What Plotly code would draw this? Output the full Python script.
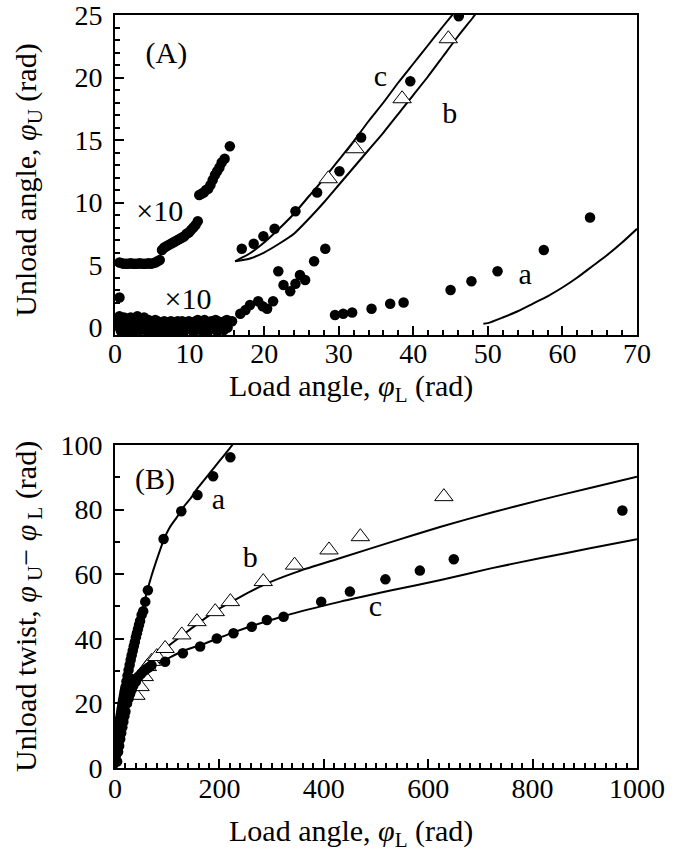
import plotly.graph_objects as go

# ---------------- Panel A data ----------------
# x10 upper series (values multiplied by 10)
a_up10_x = [0.6, 0.9, 1.2, 1.5, 1.8, 2.1, 2.4, 2.7, 3.0, 3.3, 3.6, 3.9, 4.2, 4.5, 4.8, 5.1, 5.4,
            5.7, 6.0, 6.3, 6.6, 6.9, 7.2, 7.5, 7.8, 8.1, 8.4, 8.7, 9.0, 9.3, 9.6, 9.9, 10.2,
            10.5, 10.8, 11.1, 11.3, 11.6, 11.9, 12.2, 12.5, 12.8, 13.1, 13.4, 13.7, 14.0, 14.3,
            14.7, 15.4]
a_up10_y = [5.2, 5.15, 5.1, 5.1, 5.1, 5.15, 5.1, 5.1, 5.1, 5.15, 5.1, 5.1, 5.1, 5.15, 5.1,
            5.15, 5.2, 5.3, 5.4, 6.2, 6.4, 6.5, 6.6, 6.7, 6.8, 6.9, 7.0, 7.1, 7.2, 7.3, 7.5,
            7.6, 7.8, 8.0, 8.2, 8.5, 10.6, 10.7, 10.8, 11.0, 11.1, 11.4, 11.8, 12.2, 12.5,
            12.8, 13.2, 13.5, 14.5]

# x10 lower series (values multiplied by 10)
a_lo10_x = [0.6, 0.3, 0.6, 0.9, 1.2, 1.5, 1.8, 2.1, 2.4, 2.7, 3.0, 3.3, 3.6, 3.9, 4.2, 4.5,
            4.8, 5.1, 5.4, 5.7, 6.0, 6.3, 6.6, 6.9, 7.2, 7.5, 7.8, 8.1, 8.4, 8.7, 9.0, 9.3,
            9.6, 9.9, 10.2, 10.5, 10.8, 11.1, 11.4, 11.7, 12.0, 12.3, 12.6, 12.9, 13.2, 13.5,
            13.8, 14.1, 14.4, 14.7, 15.0, 15.3,
            0.4, 0.8, 1.1, 1.6, 2.0, 2.5, 2.9, 3.4, 3.8, 4.3, 4.7, 5.2, 5.6, 6.1, 6.5, 7.0,
            7.4, 7.9, 8.3, 8.8, 9.2, 9.7, 10.1, 10.6, 11.0, 11.5, 11.9, 12.4, 12.8, 13.3, 13.7,
            14.2, 14.6, 15.1,
            15.7, 16.8, 17.5, 18.1, 19.2, 19.8, 20.4, 21.2, 21.9, 22.6, 23.5, 24.2, 24.8, 25.5,
            26.7, 28.2]
a_lo10_y = [2.4, 0.7, 0.9, 0.6, 0.8, 0.7, 0.5, 0.8, 0.6, 0.7, 0.9, 0.6, 0.7, 0.8, 0.5, 0.6,
            0.5, 0.4, 0.6, 0.5, 0.3, 0.4, 0.5, 0.3, 0.4, 0.5, 0.3, 0.4, 0.5, 0.4, 0.5, 0.4, 0.3,
            0.5, 0.4, 0.3, 0.5, 0.6, 0.4, 0.5, 0.6, 0.4, 0.3, 0.5, 0.4, 0.6, 0.5, 0.4, 0.3, 0.5,
            0.6, 0.5,
            0.1, -0.3, 0.2, -0.4, -0.1, -0.4, 0.1, -0.2, 0.0, -0.3, 0.1, -0.4, 0.0, -0.3, -0.1,
            -0.4, 0.0, -0.2, -0.3, 0.0, -0.4, -0.1, 0.1, -0.3, 0.0, -0.2, 0.1, -0.4, -0.1, 0.0,
            -0.3, 0.1, -0.2, 0.0,
            0.5, 1.1, 1.4, 1.8, 2.1, 1.7, 1.5, 2.1, 4.5, 3.4, 2.9, 3.5, 4.2, 3.8, 5.3, 6.3]

# series a (filled circles)
a_a_x = [29.5, 30.6, 31.8, 34.4, 36.9, 38.7, 45.0, 47.8, 51.3, 57.5, 63.7]
a_a_y = [1.0, 1.1, 1.2, 1.5, 1.9, 2.0, 3.0, 3.7, 4.5, 6.2, 8.8]
# series b (open triangles)
a_b_x = [28.6, 32.2, 38.5, 44.7]
a_b_y = [11.9, 14.3, 18.3, 23.1]
# series c (filled circles)
a_c_x = [17.0, 18.6, 19.9, 21.4, 24.2, 27.1, 30.1, 33.0, 39.6, 46.1]
a_c_y = [6.3, 6.7, 7.3, 7.9, 9.3, 10.8, 12.5, 15.2, 19.7, 24.9]

# model curves
la_a_x = [49.4, 50, 52, 54, 56, 58, 60, 62, 64, 66, 68, 70]
la_a_y = [0.3, 0.35, 0.8, 1.3, 1.9, 2.5, 3.2, 4.0, 4.9, 5.8, 6.8, 7.9]
la_b_x = [16.1, 18, 20, 22, 24, 26, 28, 30, 32, 34, 36, 38, 40, 42, 44, 46, 48, 48.5]
la_b_y = [5.3, 5.5, 6.0, 6.7, 7.5, 8.7, 10.0, 11.4, 12.8, 14.2, 15.6, 17.1, 18.6, 20.1, 21.7,
          23.3, 24.8, 25.2]
la_c_x = [16.1, 18, 20, 22, 24, 26, 28, 30, 32, 34, 36, 38, 40, 42, 44, 45.5]
la_c_y = [5.3, 5.9, 6.8, 7.9, 9.1, 10.5, 11.9, 13.4, 14.9, 16.5, 18.0, 19.6, 21.1, 22.6, 24.1,
          25.2]

# in-plot labels, panel A
lab_a_text = ["(A)", "×10", "×10", "c", "b", "a"]
lab_a_x = [6.9, 6.0, 9.8, 35.6, 44.9, 55.0]
lab_a_y = [21.8, 9.1, 2.1, 19.9, 17.0, 4.1]

# ---------------- Panel B data ----------------
b_a_x = [1, 2, 3, 4, 5, 6, 7, 8, 9, 10, 11, 12, 13, 14, 15, 16, 17, 18, 19, 20, 22, 24, 26,
         28, 30, 32, 34, 36, 38, 40, 42, 44, 46, 48, 51, 54, 58, 63, 93, 127, 158, 188, 221]
b_a_y = [2, 4, 6, 8, 9.5, 11, 12.3, 13.5, 14.5, 15.5, 16.5, 17.5, 18.5, 19.5, 20.5, 21.4,
         22.3, 23.2, 24.1, 25, 26.8, 28.6, 30.3, 31.9, 33.5, 34.9, 36.3, 37.7, 39, 40.5, 41.7,
         43, 44.3, 45.5, 47.4, 48.5, 51.5, 55, 70.9, 79.5, 84.5, 90.3, 96.2]
b_b_x = [40, 48, 56, 62, 70, 80, 96, 128, 157, 192, 221, 284, 344, 410, 470, 630]
b_b_y = [22.5, 25.2, 28.3, 31.4, 33, 34.5, 37, 41.2, 45.3, 48.4, 51.5, 57.7, 62.8, 67.5,
         71.6, 84.0]
b_c_x = [4, 5, 6, 7, 8, 9, 10, 11, 12, 13, 14, 15, 16, 17, 18, 19, 20, 22, 23, 25, 26, 28, 29,
         31, 32, 34, 35, 40, 45, 50, 55, 60, 65, 70, 96, 130, 163, 195, 227, 262, 291, 323,
         395, 450, 518, 584, 649, 972]
b_c_y = [2, 8, 5, 10, 6.9, 12, 9, 14, 10.8, 16, 12.6, 17.5, 14.3, 19, 16, 20.5, 17.5, 22, 20,
         23.5, 21.5, 25, 23, 26.5, 24.3, 27.5, 25.5, 26.8, 28.3, 29.2, 30, 30.6, 31.2, 31.8,
         32.9, 35.5, 37.6, 40.1, 41.7, 43.7, 45.8, 46.8, 51.5, 54.6, 58.4, 61.1, 64.6, 79.7]

lb_a_x = [1, 2, 4, 6, 8, 10, 15, 20, 25, 30, 35, 41, 48, 55, 62, 70, 80, 93, 105, 118, 130,
          145, 160, 175, 190, 205, 220, 227]
lb_a_y = [0, 4, 8, 11, 13.5, 15.5, 20.5, 25, 29.5, 33.5, 37, 41.5, 46, 50.5, 55, 59.5, 64.5,
          70.5, 74.5, 77.5, 80.5, 83.5, 87, 90, 93, 96, 99, 100.5]
lb_b_x = [2, 5, 10, 15, 20, 30, 40, 48, 60, 86, 138, 195, 285, 350, 432, 530, 624, 720, 816,
          910, 1000]
lb_b_y = [0, 6.5, 11, 15.5, 19.5, 24.5, 28, 30.3, 32.6, 35.8, 42.2, 48.9, 56.7, 60.8, 65.0,
          70.0, 74.7, 79.0, 83.0, 86.7, 90.2]
lb_c_x = [3, 6, 10, 15, 20, 27, 35, 45, 55, 67, 96, 131, 163, 195, 227, 323, 432, 530, 624,
          720, 816, 910, 1000]
lb_c_y = [0, 5, 9, 13.5, 17.5, 22, 25.5, 28.3, 30, 31.2, 33.5, 36.3, 38, 40, 42, 47, 51.5,
          55, 58.2, 61.8, 65, 68, 70.8]

# in-plot labels, panel B
lab_b_text = ["(B)", "a", "b", "c"]
lab_b_x = [76.8, 198, 259, 499]
lab_b_y = [88.6, 82.4, 64.4, 49.4]

FONT = "Liberation Serif, Times New Roman, serif"
BLACK = "black"
TICK_SIZE = 28
TITLE_SIZE = 30
LABEL_SIZE = 30

fig = go.Figure()


def dots(x, y, xa, ya):
    fig.add_trace(go.Scatter(x=x, y=y, mode="markers", xaxis=xa, yaxis=ya, showlegend=False,
                             marker=dict(symbol="circle", size=10.5, color=BLACK,
                                         line=dict(width=0))))


def tris(x, y, xa, ya):
    fig.add_trace(go.Scatter(x=x, y=y, mode="markers", xaxis=xa, yaxis=ya, showlegend=False,
                             marker=dict(symbol="triangle-up", size=16, color="white",
                                         line=dict(width=1, color=BLACK))))


def curve(x, y, xa, ya):
    fig.add_trace(go.Scatter(x=x, y=y, mode="lines", xaxis=xa, yaxis=ya, showlegend=False,
                             line=dict(color=BLACK, width=2, shape="spline", smoothing=0.6)))


def labels(t, x, y, xa, ya):
    fig.add_trace(go.Scatter(x=x, y=y, text=t, mode="text", xaxis=xa, yaxis=ya,
                             showlegend=False, textposition="middle center",
                             textfont=dict(family=FONT, size=LABEL_SIZE, color=BLACK),
                             hoverinfo="skip", cliponaxis=False))


# Panel A
curve(la_a_x, la_a_y, "x", "y")
curve(la_b_x, la_b_y, "x", "y")
curve(la_c_x, la_c_y, "x", "y")
dots(a_up10_x, a_up10_y, "x", "y")
dots(a_lo10_x, a_lo10_y, "x", "y")
dots(a_a_x, a_a_y, "x", "y")
dots(a_c_x, a_c_y, "x", "y")
tris(a_b_x, a_b_y, "x", "y")
labels(lab_a_text, lab_a_x, lab_a_y, "x", "y")

# Panel B
curve(lb_a_x, lb_a_y, "x2", "y2")
curve(lb_b_x, lb_b_y, "x2", "y2")
curve(lb_c_x, lb_c_y, "x2", "y2")
tris(b_b_x, b_b_y, "x2", "y2")
dots(b_a_x, b_a_y, "x2", "y2")
dots(b_c_x, b_c_y, "x2", "y2")
labels(lab_b_text, lab_b_x, lab_b_y, "x2", "y2")

axis_common = dict(showgrid=False, zeroline=False, showline=True, linecolor=BLACK,
                   linewidth=2, mirror=True, ticks="inside", ticklen=9, tickwidth=1.5,
                   tickcolor=BLACK, automargin=False, ticklabeloverflow="allow",
                   tickfont=dict(family=FONT, size=TICK_SIZE, color=BLACK))
minor_common = dict(ticks="inside", ticklen=5, tickwidth=1.5, tickcolor=BLACK)

fig.update_layout(
    width=689, height=851,
    margin=dict(l=115, r=52, t=15, b=83, autoexpand=False),
    paper_bgcolor="white", plot_bgcolor="white",
    font=dict(family=FONT, size=TICK_SIZE, color=BLACK),
    xaxis=dict(axis_common, domain=[0, 1], range=[0, 70], dtick=10, anchor="y",
               ticklabelstandoff=-8, minor=dict(minor_common, dtick=2)),
    yaxis=dict(axis_common, domain=[0.575, 1], range=[-0.6, 25], tickmode="array",
               tickvals=[0, 5, 10, 15, 20, 25], anchor="x",
               ticklabelstandoff=5, minor=dict(minor_common, dtick=1, tick0=0)),
    xaxis2=dict(axis_common, domain=[0, 1], range=[0, 1000], dtick=200, anchor="y2",
                ticklabelstandoff=-6, minor=dict(minor_common, dtick=20)),
    yaxis2=dict(axis_common, domain=[0, 0.429], range=[0, 100], dtick=20, anchor="x2",
                ticklabelstandoff=5, minor=dict(minor_common, dtick=10)),
)

tfont = dict(family=FONT, size=TITLE_SIZE, color=BLACK)
ann = []
# axis titles
ann.append(dict(text="Load angle, <i>φ</i><sub>L</sub> (rad)", xref="paper", yref="paper",
                x=0.452, y=0.505, xanchor="center", yanchor="middle", showarrow=False,
                font=tfont))
ann.append(dict(text="Load angle, <i>φ</i><sub>L</sub> (rad)", xref="paper", yref="paper",
                x=0.452, y=-0.086, xanchor="center", yanchor="middle", showarrow=False,
                font=tfont))
ann.append(dict(text="Unload angle, <i>φ</i><sub>U</sub> (rad)", xref="paper", yref="paper",
                x=-0.167, y=0.781, xanchor="center", yanchor="middle", textangle=-90,
                showarrow=False, font=tfont))
ann.append(dict(text="Unload twist, <i>φ</i><sub> U</sub>− <i>φ</i><sub> L</sub> (rad)",
                xref="paper", yref="paper", x=-0.167, y=0.215, xanchor="center",
                yanchor="middle", textangle=-90, showarrow=False, font=tfont))
fig.update_layout(annotations=ann)

fig.write_html("out.html", config={"displayModeBar": False},
               post_script="document.body.style.margin='0px';")
